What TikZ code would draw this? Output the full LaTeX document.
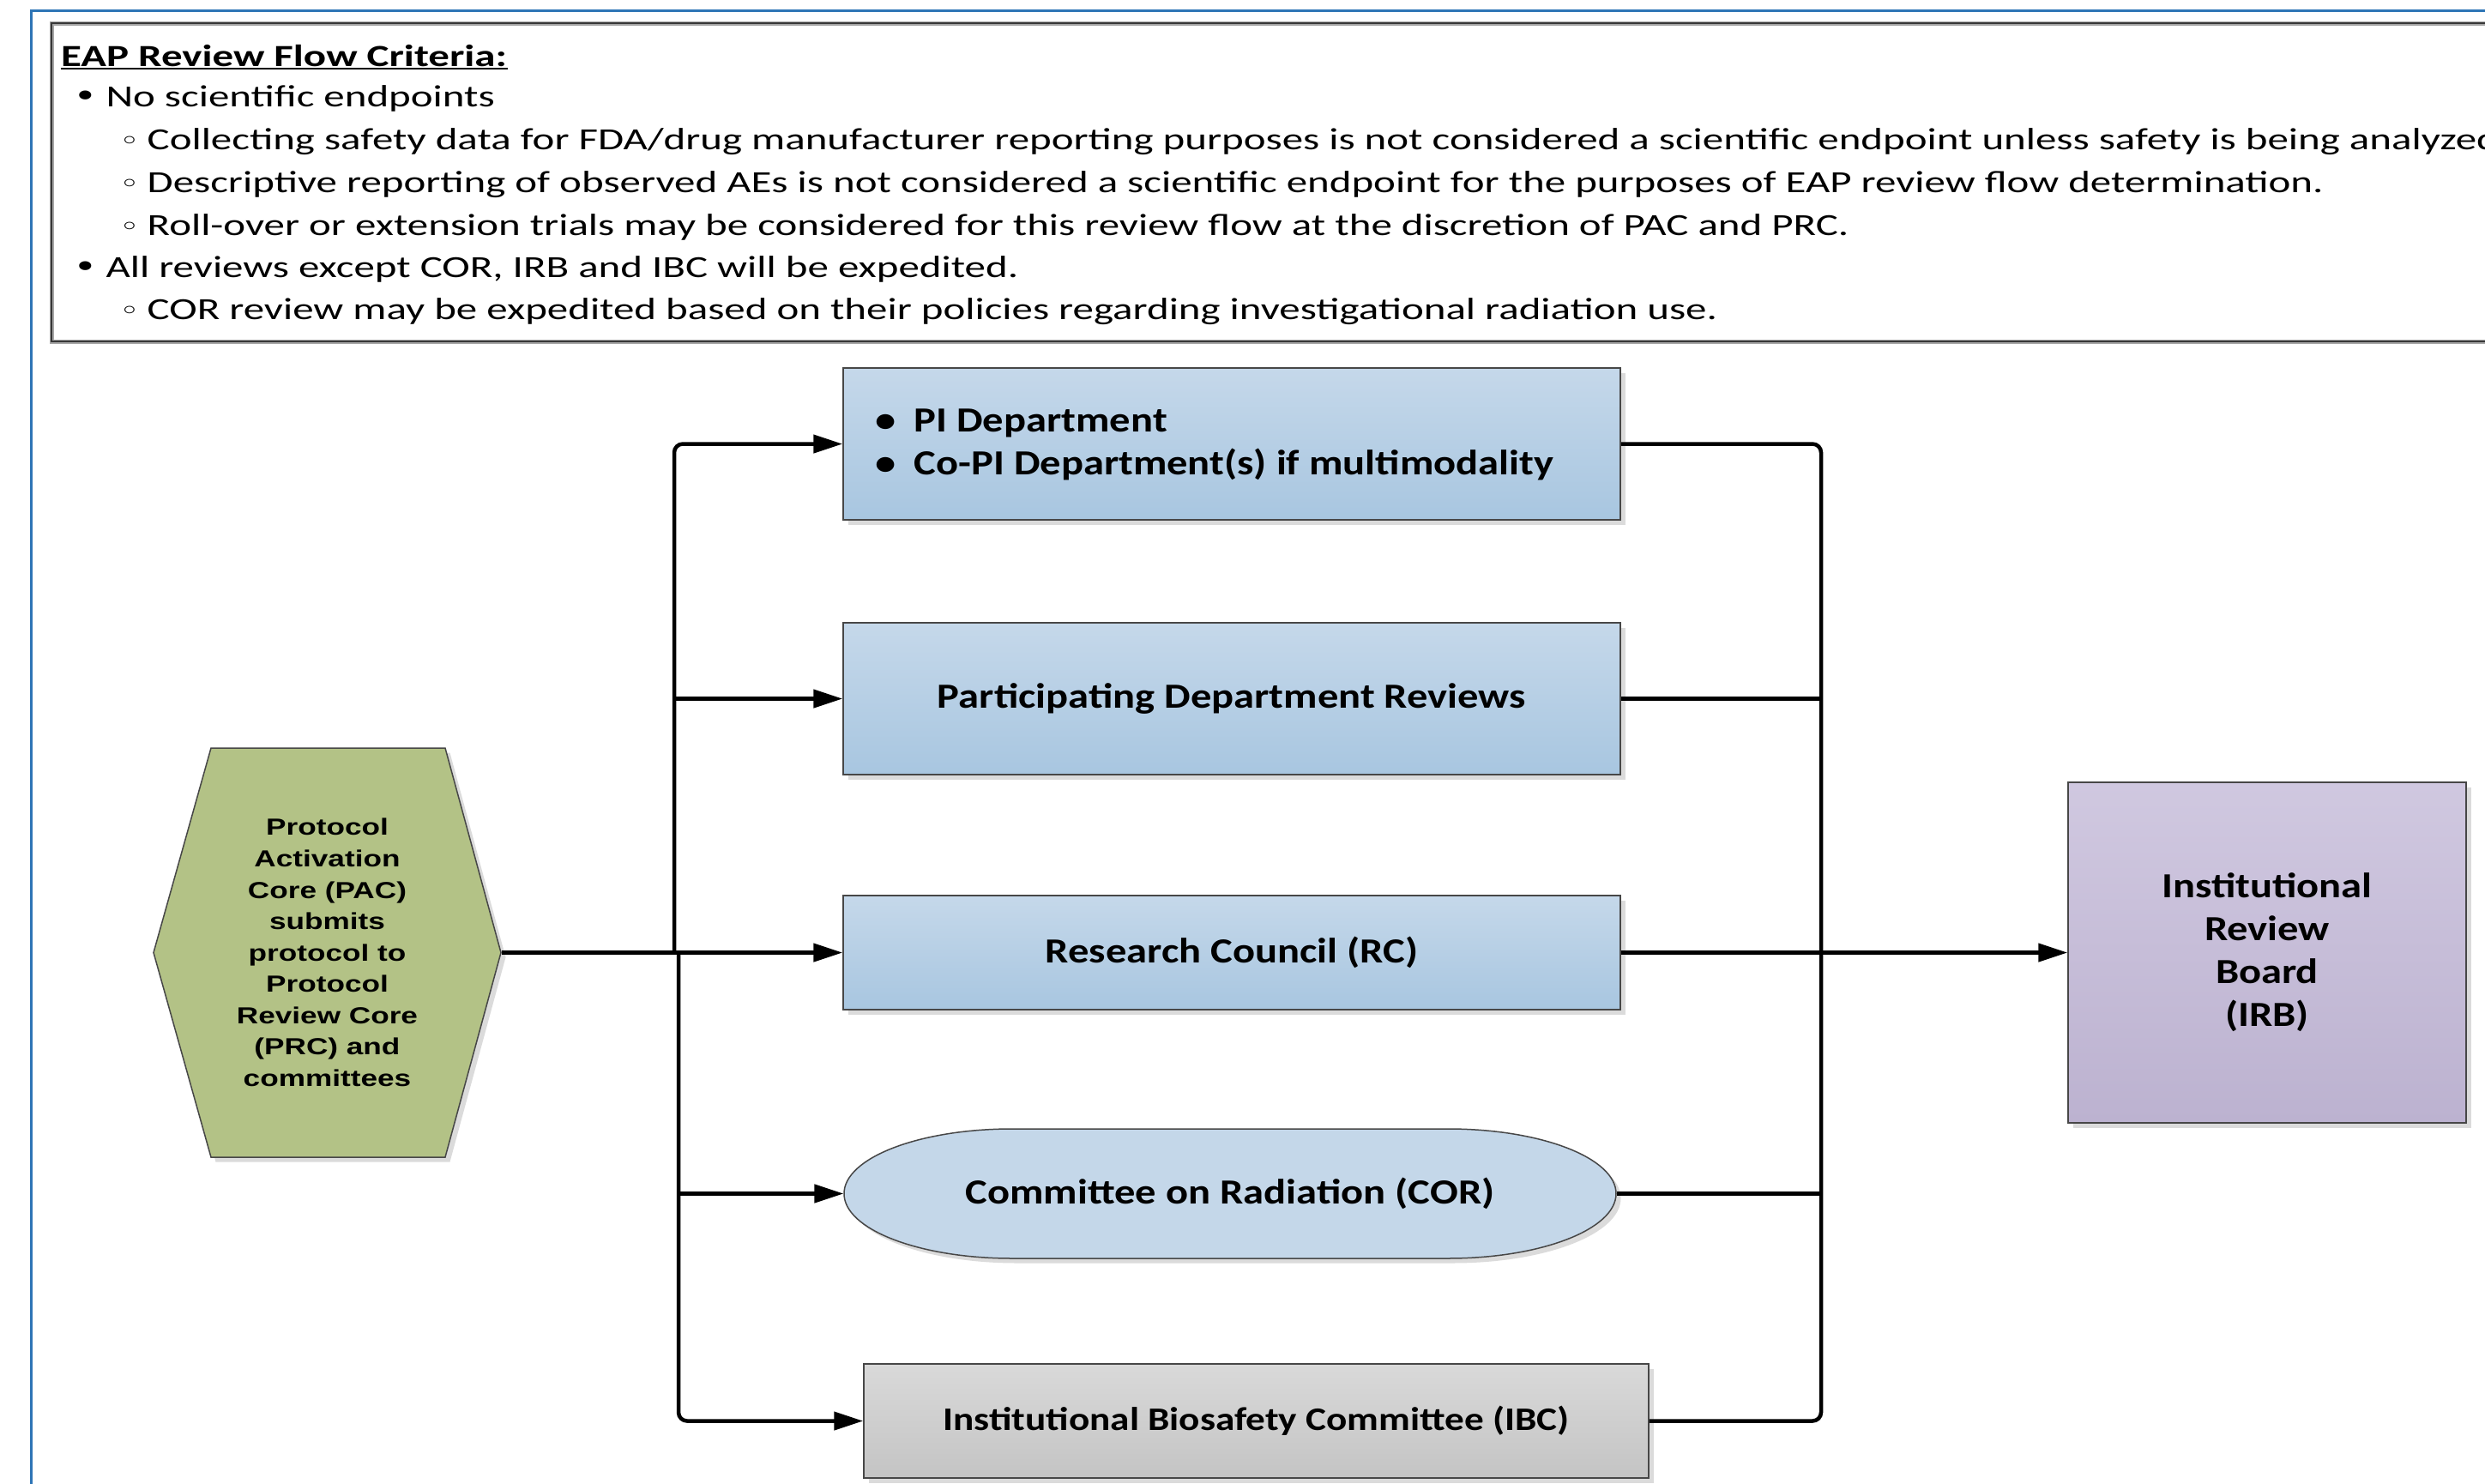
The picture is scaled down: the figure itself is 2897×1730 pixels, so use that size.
\documentclass[tikz,border=0pt]{standalone}
\usepackage{fontspec}
\setmainfont{Carlito}
\newfontfamily\critfont[FakeStretch=1.365]{Carlito}
\newfontfamily\boxfont[FakeStretch=1.18]{Carlito}
\newfontfamily\hexfont[FakeStretch=1.3]{Liberation Sans}
\newfontfamily\symfont[FakeStretch=1.35]{DejaVu Sans}
\usetikzlibrary{arrows.meta}
\definecolor{frameblue}{RGB}{46,117,182}
\definecolor{boxtop}{RGB}{197,216,234}
\definecolor{boxbot}{RGB}{168,198,224}
\definecolor{corfill}{RGB}{196,215,233}
\definecolor{ibctop}{RGB}{217,217,217}
\definecolor{ibcbot}{RGB}{196,196,196}
\definecolor{irbtop}{RGB}{208,200,224}
\definecolor{irbbot}{RGB}{188,178,208}
\definecolor{hexfill}{RGB}{179,194,134}
\begin{document}
\begin{tikzpicture}[x=0.1mm,y=-0.1mm,
  crit/.style={anchor=base west, inner sep=0, font=\critfont\fontsize{10.2}{14.1}\selectfont},
  shadowed/.style={preaction={fill=black!14, transform canvas={xshift=0.55mm,yshift=-0.55mm}}},
  boxbase/.style={draw=black!72, line width=0.15mm, inner sep=0, shadowed,
     font=\boxfont\bfseries\fontsize{11.7}{14.2}\selectfont, align=center},
  bluebox/.style={boxbase, top color=boxtop, bottom color=boxbot},
  graybox/.style={boxbase, top color=ibctop, bottom color=ibcbot},
  irbbox/.style={boxbase, top color=irbtop, bottom color=irbbot},
  shapeline/.style={draw=black!72, line width=0.15mm},
  txt/.style={inner sep=0, align=center},
  conn/.style={draw=black, line width=0.45mm},
  arrowconn/.style={conn, -{Triangle[length=3.4mm,width=2.1mm]}}
]
\useasboundingbox (0,0) rectangle (2897,1730);
\clip (0,0) rectangle (2897,1730);
\fill[white] (0,0) rectangle (2897,1730);

% outer blue frame
\draw[frameblue, line width=0.25mm] (36.6,12.3) rectangle (3000,1800);

% criteria box
\draw[black!35, line width=0.5mm] (60,27) rectangle (3000,398);
\draw[black!78, line width=0.28mm] (60,27) rectangle (3000,398);

\node[crit, font=\critfont\bfseries\fontsize{10.2}{14.1}\selectfont] (title) at (70.5,77) {EAP Review Flow Criteria:};
\draw[line width=0.27mm] ([yshift=-0.3mm]title.base west) -- ([yshift=-0.3mm]title.base east);

\node[crit] (b1) at (85,124) {\symfont •};
\node[crit] (l1) at (122.8,124) {No scientific endpoints};
\node[crit] (s2) at (139,174) {\symfont\fontsize{8.5}{10}\selectfont ◦};
\node[crit] (l2) at (171,174) {Collecting safety data for FDA/drug manufacturer reporting purposes is not considered a scientific endpoint unless safety is being analyzed};
\node[crit] (s3) at (139,224) {\symfont\fontsize{8.5}{10}\selectfont ◦};
\node[crit] (l3) at (171,224) {Descriptive reporting of observed AEs is not considered a scientific endpoint for the purposes of EAP review flow determination.};
\node[crit] (s4) at (139,274) {\symfont\fontsize{8.5}{10}\selectfont ◦};
\node[crit] (l4) at (171,274) {Roll-over or extension trials may be considered for this review flow at the discretion of PAC and PRC.};
\node[crit] (b5) at (85,323) {\symfont •};
\node[crit] (l5) at (122.8,323) {All reviews except COR, IRB and IBC will be expedited.};
\node[crit] (s6) at (139,372) {\symfont\fontsize{8.5}{10}\selectfont ◦};
\node[crit] (l6) at (171,372) {COR review may be expedited based on their policies regarding investigational radiation use.};

% hexagon
\path[shapeline, fill=hexfill, shadowed] (179,1110.5) -- (246,872) -- (519,872) -- (584,1110.5) -- (519,1349) -- (246,1349) -- cycle;
\node[txt, minimum width=40.5mm, minimum height=47.7mm,
  font=\hexfont\bfseries\fontsize{7.7}{10.4}\selectfont] (hex) at (381.5,1110.5)
  {Protocol\\Activation\\Core (PAC)\\submits\\protocol to\\Protocol\\Review Core\\(PRC) and\\committees};

% review boxes
\node[bluebox, minimum width=90.6mm, minimum height=17.7mm] (box1) at (1436,517.5) {};
\node[txt, anchor=base west, align=left, font=\boxfont\bfseries\fontsize{11.7}{14.2}\selectfont] (box1txt) at (1020,553)
  {\makebox[4.5mm][l]{•}PI Department\\\makebox[4.5mm][l]{•}Co-PI Department(s) if multimodality};
\node[bluebox, minimum width=90.6mm, minimum height=17.7mm] (box2) at (1436,814.5) {Participating Department Reviews};
\node[bluebox, minimum width=90.6mm, minimum height=13.3mm] (box3) at (1436,1110.5) {Research Council (RC)};

% COR stadium
\path[shapeline, fill=corfill, shadowed] (1180,1316) -- (1688,1316)
  arc[start angle=90, end angle=-90, x radius=19.6mm, y radius=7.55mm]
  -- (1180,1467)
  arc[start angle=270, end angle=90, x radius=19.6mm, y radius=7.55mm] -- cycle;
\node[txt, minimum width=90mm, minimum height=15.1mm,
  font=\boxfont\bfseries\fontsize{11.7}{14.2}\selectfont] (cor) at (1434,1391.5) {Committee on Radiation (COR)};

\node[graybox, minimum width=91.5mm, minimum height=13.3mm,
  font=\boxfont\bfseries\fontsize{10.9}{13.2}\selectfont] (ibc) at (1464.5,1656.5) {Institutional Biosafety Committee (IBC)};

\node[irbbox, minimum width=46.4mm, minimum height=39.7mm] (irb) at (2643,1110.5) {Institutional\\Review\\Board\\(IRB)};

% connectors left
\coordinate (lt) at (786,1110.5);
\coordinate (lb) at (791,1110.5);
\draw[arrowconn] (hex.east) -- (box3.west);
\draw[arrowconn, rounded corners=1mm] (lt) |- (box1.west);
\draw[arrowconn] (lt |- box2.west) -- (box2.west);
\draw[arrowconn, rounded corners=1mm] (lb) |- (ibc.west);
\draw[arrowconn] (lb |- cor.west) -- (cor.west);

% connectors right
\coordinate (rb) at (2123,1110.5);
\draw[conn, rounded corners=1mm] (box1.east) -| (rb);
\draw[conn, rounded corners=1mm] (ibc.east) -| (rb);
\draw[conn] (box2.east) -- (box2.east -| rb);
\draw[conn] (cor.east) -- (cor.east -| rb);
\draw[arrowconn] (box3.east) -- (irb.west);
\end{tikzpicture}
\end{document}
